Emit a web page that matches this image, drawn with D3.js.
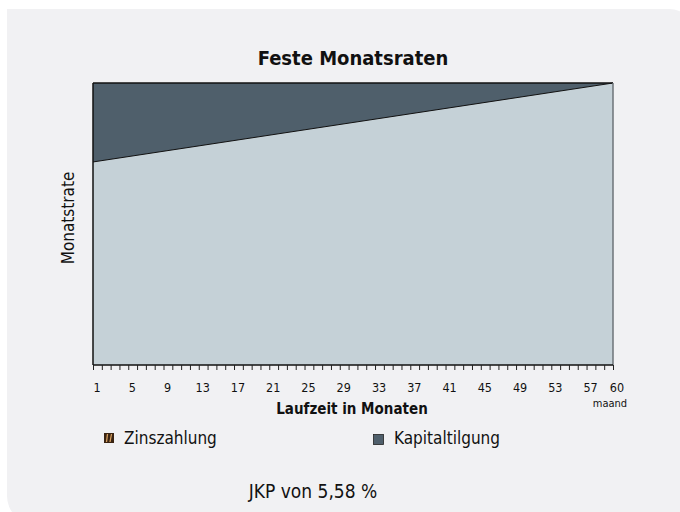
<!DOCTYPE html>
<html>
<head>
<meta charset="utf-8">
<script src="https://cdn.jsdelivr.net/npm/d3@7"></script>
<style>
  body { margin: 0; background: #fff; }
  svg text { font-family: "Liberation Sans Narrow", "DejaVu Sans Condensed", "Liberation Sans", sans-serif; fill: #111; }
</style>
</head>
<body>
<script>

var months = [1, 60];
var monthlyRate = [100, 100];
var tilgung = [72, 100];
var tickLabels = [1, 5, 9, 13, 17, 21, 25, 29, 33, 37, 41, 45, 49, 53, 57, 60];

var width = 680, height = 512;
var plotLeft = 93, plotRight = 613, plotTop = 83, plotBottom = 365;

var svg = d3.select("body").append("svg")
    .attr("width", width)
    .attr("height", height);

// panel with rounded corners (top right / bottom left)
var px = 7, py = 9, pw = 690, ph = 515, r = 28;
svg.append("path")
  .attr("d", "M" + px + "," + py +
    " H" + (px + pw - r) +
    " A" + r + "," + r + " 0 0 1 " + (px + pw) + "," + (py + r) +
    " V" + (py + ph - r) +
    " A" + r + "," + r + " 0 0 1 " + (px + pw - r) + "," + (py + ph) +
    " H" + (px + r) +
    " A" + r + "," + r + " 0 0 1 " + px + "," + (py + ph - r) + " Z")
  .style("fill", "#f1f1f3");

var x = d3.scaleLinear().domain([1, 60]).range([plotLeft, plotRight]);
var y = d3.scaleLinear().domain([0, 100]).range([plotBottom, plotTop]);

var data = months.map(function(m, i){
  return { m: m, total: monthlyRate[i], t: tilgung[i] };
});

// lower part
svg.append("path")
  .datum(data)
  .attr("d", d3.area()
    .x(function(d){ return x(d.m); })
    .y0(y(0))
    .y1(function(d){ return y(d.t); }))
  .style("fill", "#c5d1d7");

// upper part
svg.append("path")
  .datum(data)
  .attr("d", d3.area()
    .x(function(d){ return x(d.m); })
    .y0(function(d){ return y(d.t); })
    .y1(function(d){ return y(d.total); }))
  .style("fill", "#4f5f6b");

svg.append("path")
  .datum(data)
  .attr("d", d3.line()
    .x(function(d){ return x(d.m); })
    .y(function(d){ return y(d.t); }))
  .style("fill", "none")
  .style("stroke", "#111")
  .style("stroke-width", 1);

// frame
svg.append("line").attr("x1", plotLeft).attr("x2", plotLeft).attr("y1", plotTop).attr("y2", plotBottom)
  .style("stroke", "#111").style("stroke-width", 1.5);
svg.append("line").attr("x1", plotLeft).attr("x2", plotRight).attr("y1", plotTop).attr("y2", plotTop)
  .style("stroke", "#111").style("stroke-width", 1.5);
svg.append("line").attr("x1", plotRight).attr("x2", plotRight).attr("y1", plotTop).attr("y2", plotBottom)
  .style("stroke", "#6d7378").style("stroke-width", 1.5);

// x axis
var axis = svg.append("g")
  .attr("transform", "translate(0," + plotBottom + ")")
  .call(d3.axisBottom(x).tickValues(d3.range(1, 61)).tickSize(5).tickFormat(""));
axis.select(".domain").attr("d", "M" + plotLeft + ",0H" + plotRight).style("stroke", "#111").style("stroke-width", 1.5);
axis.selectAll(".tick line").style("stroke", "#222");

svg.selectAll(".xlab")
  .data(tickLabels)
  .enter()
  .append("text")
  .attr("x", function(d){ return x(d) + 4; })
  .attr("y", 392)
  .attr("text-anchor", "middle")
  .style("font-size", "12.5px")
  .text(function(d){ return d; });

svg.append("text")
  .attr("x", 610).attr("y", 407)
  .attr("text-anchor", "middle")
  .style("font-size", "11px")
  .text("maand");

svg.append("text")
  .attr("x", 352).attr("y", 414)
  .attr("text-anchor", "middle")
  .style("font-size", "15px")
  .style("font-weight", "bold")
  .text("Laufzeit in Monaten");

svg.append("text")
  .attr("x", 353).attr("y", 65)
  .attr("text-anchor", "middle")
  .style("font-size", "20px")
  .style("font-weight", "bold")
  .text("Feste Monatsraten");

svg.append("text")
  .attr("transform", "translate(74,218) rotate(-90)")
  .attr("text-anchor", "middle")
  .style("font-size", "17px")
  .text("Monatstrate");

// legend
var zins = svg.append("g").attr("transform", "translate(104,433)");
zins.append("rect").attr("width", 10).attr("height", 10).style("fill", "#3a2412");
zins.append("path").attr("d", "M3.5,1 L2.5,9 M7.5,1 L6,9").style("stroke", "#d7a060").style("stroke-width", 1.3);
svg.append("text").attr("x", 124).attr("y", 444).style("font-size", "17px").text("Zinszahlung");

svg.append("rect").attr("x", 373.5).attr("y", 434.5).attr("width", 10).attr("height", 10)
  .style("fill", "#4f5f6b").style("stroke", "#222").style("stroke-width", 0.8);
svg.append("text").attr("x", 394).attr("y", 444).style("font-size", "17px").text("Kapitaltilgung");

svg.append("text")
  .attr("x", 313).attr("y", 498)
  .attr("text-anchor", "middle")
  .style("font-size", "19px")
  .text("JKP von  5,58 %");

</script>
</body>
</html>
